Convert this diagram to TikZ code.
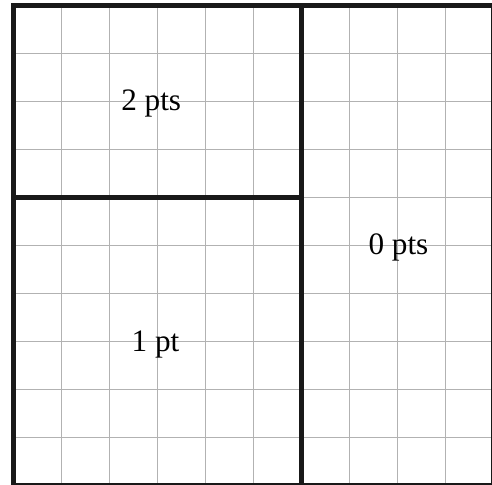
\documentclass[tikz,border=0pt]{standalone}
\usepackage{fontspec}
\setmainfont{Liberation Serif}

\begin{document}
\begin{tikzpicture}[
        gridline/.style={draw=black!30, line width=0.8pt},
        fence/.style={draw=black!90, line width=3pt, line cap=rect},
        score/.style={anchor=base, font=\fontsize{18.5}{22}\selectfont}
    ]

    \useasboundingbox (-0.281,0.017) rectangle (9.969,10.121);

    % Define background grid
    \draw[gridline] (0,0) grid (10,10);

    % Define outer border and fences
    \draw[fence] (0,0) rectangle (10,10);
    \draw[fence] (6,0) -- (6,10);
    \draw[fence] (0,6) -- (6,6);

    % Region scores
    \node[score] (twopts) at (2.87,7.815) {2 pts};
    \node[score] (onept) at (2.96,2.794) {1 pt};
    \node[score] (zeropts) at (8.02,4.81) {0 pts};

\end{tikzpicture}
\end{document}
